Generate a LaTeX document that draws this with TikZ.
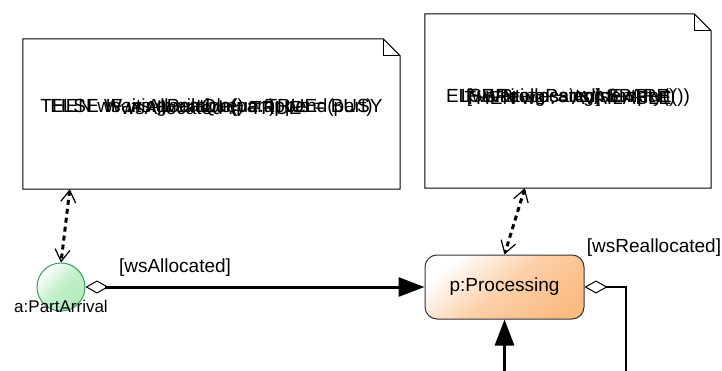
\documentclass[tikz,border=0pt]{standalone}
\usepackage{fontspec}
\setmainfont{Liberation Sans}
\usepackage{xcolor}
\usepackage{tikz}
\usetikzlibrary{arrows.meta, positioning, shapes.geometric}

\definecolor{stateGreen}{HTML}{3C9A62}
\definecolor{stateGreenFill}{HTML}{B2ECBA}
\definecolor{procOrange}{HTML}{FBBC84}
\definecolor{procBorder}{HTML}{333333}

\tikzset{
    txt/.style={font=\fontsize{19}{22}\selectfont, inner sep=0pt},
    notebox/.style={minimum width=#1, inner sep=0pt},
    notefold/.style={draw=black, line width=1pt},
    arrivalstate/.style={circle, draw=stateGreen, line width=1pt, minimum size=48pt,
        inner sep=0pt, top color=white, bottom color=stateGreenFill,
        middle color=stateGreenFill!80, shading angle=45},
    procstate/.style={rectangle, rounded corners=12pt, draw=procBorder, line width=1pt,
        minimum width=159pt, minimum height=64pt, top color=white,
        bottom color=procOrange, middle color=procOrange!70, shading angle=40, txt},
    flow/.style={line width=3pt, line join=miter},
    bothtips/.style={{Diamond[open, length=23pt, width=13pt, line width=1pt]}-{Triangle[length=26pt, width=19pt]}},
    tailtip/.style={{Diamond[open, length=23pt, width=13pt, line width=1pt]}-},
    headtip/.style={-{Triangle[length=26pt, width=19pt]}},
    link/.style={line width=3pt, dash pattern=on 5pt off 4pt,
        {Straight Barb[length=12pt, width=15pt, line width=1.2pt]}-{Straight Barb[length=12pt, width=15pt, line width=1.2pt]}}
}

% note outline with folded corner
\newcommand{\foldnote}[1]{%
    \draw[notefold] (#1.south west) -- (#1.north west) -- ([xshift=-17pt]#1.north east)
        -- ([yshift=-17pt]#1.north east) -- (#1.south east) -- cycle;
    \draw[notefold] ([xshift=-17pt]#1.north east) |- ([yshift=-17pt]#1.north east);%
}

\begin{document}
\begin{tikzpicture}[x=1pt, y=-1pt]
    \useasboundingbox (0,0) rectangle (722,371);

    % 1. Notes
    \node[notebox=377pt, minimum height=150pt] (noteL) at (211.5,114) {};
    \node[notebox=286pt, minimum height=174pt] (noteR) at (568,101) {};
    \foldnote{noteL}
    \foldnote{noteR}

    % 2. Note texts (lines set on top of each other)
    \foreach \ln [count=\i] in {{IF ws.available() = TRUE},
            {THEN ws := Allocation(part); ws = BUSY},
            {ELSE WaitingPartQueue.append(part)},
            {wsAllocated := TRUE}} {
        \node[txt] (tL\i) at ([yshift=6pt]noteL.center) {\ln};
    }
    \foreach \ln [count=\i] in {{IF WaitingParts.isEmpty()},
            {THEN ws := AVAILABLE},
            {ELSE Processing(nextPart())},
            {[wsReallocated] SPARE}} {
        \node[txt] (tR\i) at ([yshift=3pt]noteR.center) {\ln};
    }

    % 3. States
    \node[arrivalstate] (a) at (61,287) {};
    \node[font=\fontsize{17}{20}\selectfont, inner sep=0pt] (aLbl) at (61,306) {a:PartArrival};
    \node[procstate] (p) at (504.5,287) {p:Processing};

    % 4. Transitions
    \coordinate (pOut) at (626,385);
    \coordinate (pIn) at (504.5,385);
    \draw[flow, bothtips] (a.east) -- (p.west);
    \draw[flow, line width=2.6pt, tailtip] (p.east) -| (pOut);
    \draw[flow, headtip] (pIn) -- (p.south);
    \node[txt] (lblAlloc) at (175,268) {[wsAllocated]};
    \node[txt] (lblRealloc) at (654,248) {[wsReallocated]};

    % 5. Links to the notes
    \draw[link] ([xshift=47pt]noteL.south west) -- (a.north);
    \draw[link] ([xshift=100pt]noteR.south west) -- (p.north);
\end{tikzpicture}
\end{document}
